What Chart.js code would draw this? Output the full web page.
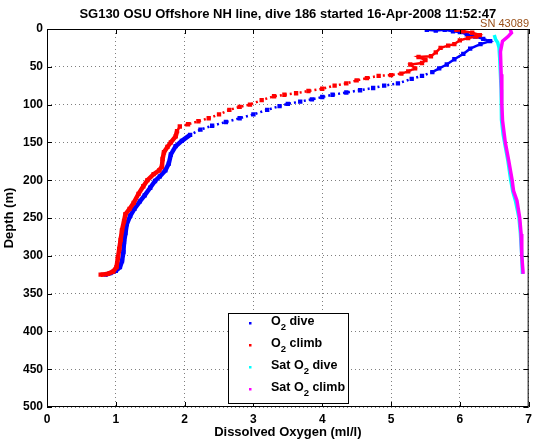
<!DOCTYPE html>
<html>
<head>
<meta charset="utf-8">
<script src="https://cdn.jsdelivr.net/npm/chart.js@4"></script>
<style>
  html, body { margin: 0; padding: 0; background: #fff; }
  #wrap { width: 537px; height: 442px; position: relative; }
</style>
</head>
<body>
<div id="wrap"><canvas id="chart" width="537" height="442"></canvas></div>
<script>
// values: dissolved oxygen (ml/l) vs depth (m)
const diveO2 = [5.52, 5.65, 5.78, 5.90, 6.00, 6.10, 6.22, 6.34, 6.44, 6.30, 6.15, 6.05, 5.92, 5.81, 5.70, 5.60, 5.45, 5.30, 5.10, 4.90, 4.74, 4.55, 4.35, 4.15, 4.00, 3.85, 3.68, 3.50, 3.38, 3.20, 3.00, 2.80, 2.60, 2.40, 2.23, 2.08, 1.96, 1.87, 1.80, 1.77, 1.72, 1.64, 1.57, 1.50, 1.42, 1.35, 1.27, 1.21, 1.16, 1.14, 1.12, 1.11, 1.09, 1.06, 1.00, 0.92, 0.85];
const diveDepth = [1, 2, 1, 3, 4, 7, 10, 13, 16, 20, 26, 33, 40, 47, 52, 57, 62, 66, 72, 75, 78, 81, 84, 87, 90, 93, 96, 99, 102, 107, 113, 118, 123, 128, 133, 140, 148, 155, 166, 178, 187, 195, 201, 210, 220, 228, 238, 247, 258, 270, 282, 295, 307, 315, 320, 323, 325];

const climbO2 = [0.78, 0.88, 0.96, 1.01, 1.03, 1.05, 1.07, 1.09, 1.12, 1.14, 1.20, 1.26, 1.33, 1.40, 1.46, 1.55, 1.63, 1.67, 1.68, 1.70, 1.75, 1.80, 1.87, 1.89, 1.93, 2.05, 2.20, 2.35, 2.50, 2.65, 2.80, 2.95, 3.12, 3.30, 3.45, 3.62, 3.80, 4.00, 4.18, 4.35, 4.50, 4.65, 4.82, 5.00, 5.15, 5.25, 5.35, 5.28, 5.45, 5.50, 5.40, 5.58, 5.65, 5.72, 5.83, 5.92, 6.00, 6.12, 6.24, 6.29, 6.18, 6.05, 5.95];
const climbDepth = [325, 324, 321, 315, 303, 291, 279, 266, 254, 245, 238, 230, 218, 208, 200, 192, 187, 182, 172, 163, 156, 150, 142, 135, 129, 126, 122, 118, 113, 107, 103, 100, 94, 89, 87, 85, 82, 79, 75, 72, 68, 65, 62, 61, 59, 56, 52, 47, 45, 41, 37, 36, 31, 25, 22, 20, 15, 12, 10, 8, 5, 3, 1];

const satDiveO2 = [6.50, 6.52, 6.55, 6.57, 6.58, 6.59, 6.60, 6.60, 6.61, 6.63, 6.66, 6.70, 6.74, 6.77, 6.81, 6.86, 6.88, 6.90, 6.91];
const satDiveDepth = [8, 14, 18, 25, 40, 60, 80, 100, 120, 140, 155, 175, 200, 215, 228, 250, 270, 300, 324];

const satClimbO2 = [6.73, 6.75, 6.70, 6.62, 6.59, 6.60, 6.61, 6.62, 6.66, 6.71, 6.76, 6.78, 6.83, 6.87, 6.89, 6.90, 6.92];
const satClimbDepth = [0, 5, 10, 16, 30, 60, 100, 121, 150, 174, 200, 214, 227, 250, 271, 300, 324];

const xTickValues = [0, 1, 2, 3, 4, 5, 6, 7];
const yTickValues = [0, 50, 100, 150, 200, 250, 300, 350, 400, 450, 500];

const titleText = 'SG130 OSU Offshore NH line, dive 186 started 16-Apr-2008 11:52:47';
const serialText = 'SN 43089';

function toPoints(xs, ys) {
  return xs.map((x, i) => ({ x, y: ys[i] }));
}

const FONT = '"Liberation Sans", Arial, Helvetica, sans-serif';

// thick band where the glider samples densely, dotted where the gradient is steep
function profileSegment() {
  return {
    borderWidth: (ctx) => (ctx.p0.parsed.y > 135 ? 4.5 : 2.5),
    borderDash: (ctx) => {
      const dx = Math.abs(ctx.p1.parsed.x - ctx.p0.parsed.x);
      return ctx.p0.parsed.y > 55 && ctx.p0.parsed.y < 135 && dx > 0.1 ? [2, 3] : [];
    },
  };
}

const datasets = [
  {
    label: 'O_2 dive',
    data: toPoints(diveO2, diveDepth),
    borderColor: '#0000ff',
    backgroundColor: '#0000ff',
    showLine: true,
    borderWidth: 2.5,
    pointRadius: 1.3,
    pointStyle: 'rect',
    segment: profileSegment(),
    order: 4,
  },
  {
    label: 'O_2 climb',
    data: toPoints(climbO2, climbDepth),
    borderColor: '#ff0000',
    backgroundColor: '#ff0000',
    showLine: true,
    borderWidth: 2.5,
    pointRadius: 1.3,
    pointStyle: 'rect',
    segment: profileSegment(),
    order: 3,
  },
  {
    label: 'Sat O_2 dive',
    data: toPoints(satDiveO2, satDiveDepth),
    borderColor: '#00ffff',
    backgroundColor: '#00ffff',
    showLine: true,
    borderWidth: 3.5,
    pointRadius: 0,
    order: 2,
  },
  {
    label: 'Sat O_2 climb',
    data: toPoints(satClimbO2, satClimbDepth),
    borderColor: '#ff00ff',
    backgroundColor: '#ff00ff',
    showLine: true,
    borderWidth: 3.5,
    pointRadius: 0,
    order: 1,
  },
];

// draw "O_2" style labels with a lowered small 2
function drawSubText(ctx, text, x, y, size) {
  const parts = text.split('_2');
  let cx = x;
  parts.forEach((part, i) => {
    ctx.font = `bold ${size}px ${FONT}`;
    ctx.fillText(part, cx, y);
    cx += ctx.measureText(part).width;
    if (i < parts.length - 1) {
      ctx.font = `bold ${size - 3}px ${FONT}`;
      ctx.fillText('2', cx, y + 5);
      cx += ctx.measureText('2').width;
    }
  });
}

const framePlugin = {
  id: 'frame',
  afterDraw(chart) {
    const { ctx, chartArea: a, scales } = chart;
    ctx.save();
    ctx.strokeStyle = '#000';
    ctx.lineWidth = 1;
    ctx.strokeRect(a.left + 0.5, a.top + 0.5, a.right - a.left - 1, a.bottom - a.top - 1);

    // inward tick marks on all four sides
    ctx.beginPath();
    xTickValues.forEach((v) => {
      const px = Math.round(scales.x.getPixelForValue(v)) + 0.5;
      ctx.moveTo(px, a.bottom); ctx.lineTo(px, a.bottom - 5);
      ctx.moveTo(px, a.top); ctx.lineTo(px, a.top + 5);
    });
    yTickValues.forEach((v) => {
      const py = Math.round(scales.y.getPixelForValue(v)) + 0.5;
      ctx.moveTo(a.left, py); ctx.lineTo(a.left + 5, py);
      ctx.moveTo(a.right, py); ctx.lineTo(a.right - 5, py);
    });
    ctx.stroke();

    // serial number, top right
    ctx.fillStyle = '#99501a';
    ctx.font = `11px ${FONT}`;
    ctx.textAlign = 'right';
    ctx.textBaseline = 'alphabetic';
    ctx.fillText(serialText, 529, 27);

    // legend box inside the axes
    const box = { left: 228, top: 313, right: 348, bottom: 403 };
    ctx.fillStyle = '#fff';
    ctx.fillRect(box.left, box.top, box.right - box.left, box.bottom - box.top);
    ctx.strokeStyle = '#000';
    ctx.strokeRect(box.left + 0.5, box.top + 0.5, box.right - box.left, box.bottom - box.top);
    ctx.textAlign = 'left';
    ctx.textBaseline = 'middle';
    chart.data.datasets.forEach((ds, i) => {
      const rowY = 323 + i * 22;
      ctx.fillStyle = ds.borderColor;
      ctx.fillRect(249, rowY - 1, 2.5, 2.5);
      ctx.fillStyle = '#000';
      drawSubText(ctx, ds.label, 271, rowY - 1, 12.5);
    });
    ctx.restore();
  },
};

const tickFont = { family: FONT, size: 12, weight: 'bold' };
const labelFont = { family: FONT, size: 13, weight: 'bold' };
const gridStyle = { color: 'rgba(0,0,0,0.5)', drawTicks: false, lineWidth: 1 };

new Chart(document.getElementById('chart'), {
  type: 'scatter',
  data: { datasets },
  plugins: [framePlugin],
  options: {
    responsive: false,
    animation: false,
    layout: { padding: { top: 0, right: 8, left: 0, bottom: 0 } },
    plugins: {
      legend: { display: false },
      tooltip: { enabled: false },
      title: {
        display: true,
        fullSize: false,
        text: titleText,
        color: '#000',
        font: labelFont,
        padding: { top: 6.5, bottom: 6.9 },
      },
    },
    scales: {
      x: {
        type: 'linear',
        min: 0,
        max: 7,
        afterBuildTicks: (scale) => { scale.ticks = xTickValues.map((v) => ({ value: v })); },
        afterFit: (scale) => { scale.height = 35; },
        ticks: { color: '#000', font: tickFont, padding: 5, maxRotation: 0 },
        grid: gridStyle,
        border: { display: false, dash: [1, 3] },
        title: {
          display: true,
          text: 'Dissolved Oxygen (ml/l)',
          color: '#000',
          font: labelFont,
          padding: { top: 0, bottom: 2 },
        },
      },
      y: {
        type: 'linear',
        reverse: true,
        min: 0,
        max: 500,
        afterBuildTicks: (scale) => { scale.ticks = yTickValues.map((v) => ({ value: v })); },
        afterFit: (scale) => { scale.width = 47; },
        ticks: { color: '#000', font: tickFont, padding: 4 },
        grid: gridStyle,
        border: { display: false, dash: [1, 3] },
        title: {
          display: true,
          text: 'Depth (m)',
          color: '#000',
          font: labelFont,
          padding: { top: 2, bottom: 0 },
        },
      },
    },
  },
});
</script>
</body>
</html>
